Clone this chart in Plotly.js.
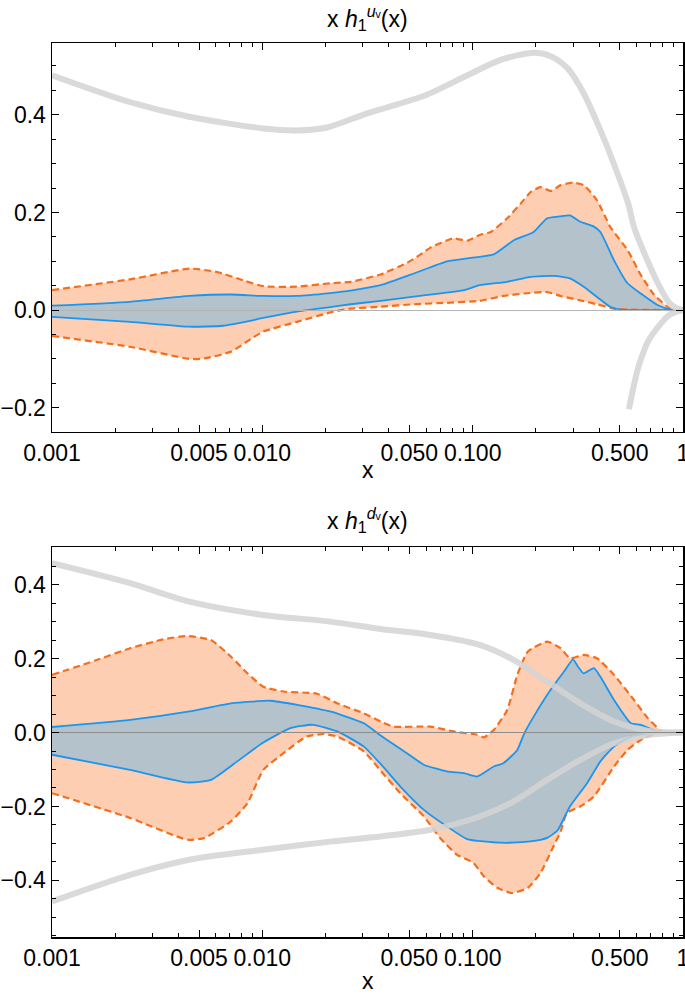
<!DOCTYPE html>
<html>
<head>
<meta charset="utf-8">
<script src="https://cdn.plot.ly/plotly-3.0.1.min.js"></script>
<style>html,body{margin:0;padding:0;background:#fff}#chart{width:685px;height:994px}</style>
</head>
<body>
<div id="chart"></div>
<script>
// ---------- tick labels ----------
const xTickVals = [0.001, 0.005, 0.01, 0.05, 0.1, 0.5, 1];
const xTickText = ['0.001', '0.005', '0.010', '0.050', '0.100', '0.500', '1'];
const xMinorVals = [0.002,0.003,0.004,0.006,0.007,0.008,0.009,0.02,0.03,0.04,0.06,0.07,0.08,0.09,0.2,0.3,0.4,0.6,0.7,0.8,0.9];
const yTopTickVals = [-0.2, 0, 0.2, 0.4];
const yTopTickText = ['\u22120.2', '0.0', '0.2', '0.4'];
const yTopMinor = [-0.25,-0.15,-0.1,-0.05,0.05,0.1,0.15,0.25,0.3,0.35,0.45,0.5];
const yBotTickVals = [-0.4, -0.2, 0, 0.2, 0.4];
const yBotTickText = ['\u22120.4', '\u22120.2', '0.0', '0.2', '0.4'];
const yBotMinor = [-0.55,-0.5,-0.45,-0.35,-0.3,-0.25,-0.15,-0.1,-0.05,0.05,0.1,0.15,0.25,0.3,0.35,0.45,0.5];

// ---------- top panel: x h1^{u_v}(x) ----------
const uOrangeUpX = [0.001,0.00235,0.0045,0.0061,0.0081,0.0101,0.0146,0.021,0.0263,0.0365,0.0489,0.0557,0.063,0.081,0.094,0.108,0.122,0.146,0.169,0.189,0.21,0.235,0.262,0.30,0.337,0.39,0.45,0.545,0.63,0.73,0.877,1];
const uOrangeUpY = [0.041,0.063,0.085,0.078,0.061,0.049,0.048,0.055,0.058,0.073,0.097,0.112,0.128,0.147,0.142,0.154,0.160,0.188,0.218,0.242,0.252,0.244,0.256,0.261,0.256,0.225,0.171,0.123,0.072,0.031,0.002,0];
const uOrangeLoX = [0.001,0.00235,0.0045,0.0053,0.0071,0.0089,0.0101,0.0146,0.0218,0.0263,0.0365,0.0526,0.0755,0.108,0.14,0.176,0.226,0.262,0.325,0.39,0.47,0.545,1];
const uOrangeLoY = [-0.053,-0.075,-0.100,-0.099,-0.085,-0.058,-0.044,-0.024,-0.003,0.003,0.007,0.012,0.015,0.019,0.029,0.034,0.037,0.029,0.020,0.012,0.003,0.001,0];
const uBlueUpX = [0.001,0.00235,0.0045,0.0071,0.0101,0.0146,0.021,0.0263,0.0365,0.0526,0.0755,0.098,0.126,0.157,0.195,0.226,0.26,0.29,0.325,0.377,0.405,0.47,0.545,0.63,0.76,0.877,1];
const uBlueUpY = [0.009,0.017,0.029,0.032,0.029,0.029,0.035,0.040,0.051,0.075,0.100,0.107,0.114,0.143,0.160,0.188,0.192,0.194,0.181,0.171,0.160,0.102,0.055,0.034,0.010,0.001,0];
const uBlueLoX = [0.001,0.00235,0.0045,0.0065,0.0085,0.0101,0.0146,0.021,0.0263,0.0365,0.061,0.091,0.108,0.146,0.189,0.244,0.29,0.337,0.39,0.45,0.507,0.7,1];
const uBlueLoY = [-0.014,-0.024,-0.034,-0.032,-0.023,-0.016,-0.003,0.006,0.012,0.019,0.031,0.041,0.051,0.058,0.068,0.070,0.065,0.048,0.027,0.007,0.001,0.0,0];
const uGreyUpX = [0.001,0.00235,0.0045,0.0101,0.0146,0.0203,0.0315,0.0597,0.0945,0.135,0.195,0.235,0.283,0.337,0.405,0.462,0.55,0.585,0.68,0.76,0.85,0.93,1];
const uGreyUpY = [0.481,0.426,0.396,0.372,0.368,0.374,0.403,0.440,0.481,0.512,0.527,0.520,0.495,0.444,0.368,0.307,0.217,0.17,0.10,0.055,0.018,0.004,0];
const uGreyLoX = [0.553,0.58,0.61,0.65,0.68,0.76,0.85,0.93,1];
const uGreyLoY = [-0.203,-0.16,-0.12,-0.085,-0.065,-0.035,-0.012,-0.003,0];

// ---------- bottom panel: x h1^{d_v}(x) ----------
const dOrangeUpX = [0.001,0.00163,0.00235,0.00339,0.00438,0.0057,0.0071,0.0085,0.0101,0.0126,0.0182,0.0227,0.0304,0.0365,0.042,0.063,0.081,0.105,0.113,0.126,0.146,0.163,0.183,0.226,0.262,0.29,0.337,0.39,0.47,0.585,0.68,0.79,1];
const dOrangeUpY = [0.156,0.196,0.228,0.252,0.261,0.250,0.205,0.160,0.124,0.111,0.105,0.079,0.052,0.030,0.016,0.016,0.003,-0.006,-0.013,0.007,0.061,0.156,0.219,0.246,0.228,0.201,0.210,0.201,0.156,0.088,0.039,0.005,0];
const dOrangeLoX = [0.001,0.00235,0.0044,0.0053,0.0071,0.0085,0.0101,0.0126,0.0162,0.0196,0.0227,0.0304,0.0365,0.0453,0.0586,0.07,0.084,0.101,0.113,0.131,0.154,0.183,0.21,0.244,0.262,0.28,0.325,0.377,0.47,0.545,0.63,0.76,1];
const dOrangeLoY = [-0.164,-0.231,-0.290,-0.285,-0.240,-0.191,-0.101,-0.056,-0.011,-0.004,-0.011,-0.051,-0.103,-0.164,-0.227,-0.285,-0.330,-0.353,-0.389,-0.420,-0.434,-0.420,-0.380,-0.304,-0.268,-0.218,-0.200,-0.173,-0.092,-0.047,-0.020,-0.001,0];
const dBlueUpX = [0.001,0.00235,0.0045,0.0071,0.0109,0.0146,0.021,0.0304,0.0365,0.0487,0.0586,0.0755,0.091,0.105,0.126,0.14,0.163,0.176,0.195,0.218,0.244,0.272,0.30,0.317,0.337,0.377,0.405,0.47,0.566,0.63,0.76,1];
const dBlueUpY = [0.015,0.034,0.057,0.079,0.086,0.075,0.057,0.025,-0.008,-0.056,-0.087,-0.105,-0.110,-0.119,-0.092,-0.083,-0.047,-0.002,0.043,0.088,0.129,0.165,0.198,0.178,0.160,0.174,0.151,0.088,0.025,0.021,0.003,0];
const dBlueLoX = [0.001,0.00235,0.0044,0.0057,0.0076,0.0101,0.0136,0.0174,0.0227,0.0304,0.0365,0.0453,0.0586,0.0755,0.094,0.136,0.183,0.21,0.226,0.253,0.29,0.35,0.405,0.47,0.566,0.7,1];
const dBlueLoY = [-0.060,-0.101,-0.135,-0.128,-0.078,-0.027,0.012,0.021,0.003,-0.038,-0.085,-0.146,-0.209,-0.254,-0.288,-0.298,-0.295,-0.290,-0.285,-0.265,-0.200,-0.137,-0.078,-0.038,-0.011,-0.002,0];
const dGreyUpX = [0.001,0.00235,0.0045,0.0101,0.021,0.0365,0.063,0.108,0.157,0.226,0.325,0.47,0.68,1];
const dGreyUpY = [0.458,0.404,0.354,0.318,0.300,0.280,0.264,0.237,0.196,0.138,0.079,0.030,0.005,0];
const dGreyLoX = [0.001,0.00235,0.0045,0.0101,0.021,0.0365,0.063,0.108,0.157,0.226,0.325,0.47,0.68,1];
const dGreyLoY = [-0.457,-0.385,-0.344,-0.317,-0.295,-0.281,-0.263,-0.227,-0.186,-0.128,-0.074,-0.029,-0.007,0];

// ---------- styles ----------
const ORANGE_FILL = 'rgb(253,206,178)';
const BLUE_FILL = 'rgb(180,194,204)';
const ORANGE_LINE = 'rgb(246,110,28)';
const BLUE_LINE = 'rgb(24,150,240)';
const GREY = 'rgba(212,212,212,0.85)';
const FONT = 'Liberation Sans, Arial, Helvetica, sans-serif';
const SM = 0.5;

function panel(xa, ya, oUx, oUy, oLx, oLy, bUx, bUy, bLx, bLy, greys) {
  const t = [];
  t.push({x: oLx, y: oLy, xaxis: xa, yaxis: ya, mode: 'lines', line: {width: 0, shape: 'spline', smoothing: SM}, hoverinfo: 'skip'});
  t.push({x: oUx, y: oUy, xaxis: xa, yaxis: ya, mode: 'lines', fill: 'tonexty', fillcolor: ORANGE_FILL, line: {width: 0, shape: 'spline', smoothing: SM}, hoverinfo: 'skip'});
  t.push({x: bLx, y: bLy, xaxis: xa, yaxis: ya, mode: 'lines', line: {width: 0, shape: 'spline', smoothing: SM}, hoverinfo: 'skip'});
  t.push({x: bUx, y: bUy, xaxis: xa, yaxis: ya, mode: 'lines', fill: 'tonexty', fillcolor: BLUE_FILL, line: {width: 0, shape: 'spline', smoothing: SM}, hoverinfo: 'skip'});
  t.push({x: oLx, y: oLy, xaxis: xa, yaxis: ya, mode: 'lines', line: {color: ORANGE_LINE, width: 2.2, dash: '7px,4px', shape: 'spline', smoothing: SM}});
  t.push({x: oUx, y: oUy, xaxis: xa, yaxis: ya, mode: 'lines', line: {color: ORANGE_LINE, width: 2.2, dash: '7px,4px', shape: 'spline', smoothing: SM}});
  t.push({x: bLx, y: bLy, xaxis: xa, yaxis: ya, mode: 'lines', line: {color: BLUE_LINE, width: 1.8, shape: 'spline', smoothing: SM}});
  t.push({x: bUx, y: bUy, xaxis: xa, yaxis: ya, mode: 'lines', line: {color: BLUE_LINE, width: 1.8, shape: 'spline', smoothing: SM}});
  greys.forEach(g => t.push({x: g[0], y: g[1], xaxis: xa, yaxis: ya, mode: 'lines', line: {color: GREY, width: 6, shape: 'spline', smoothing: 0.8}}));
  return t;
}

const data = [].concat(
  panel('x', 'y', uOrangeUpX, uOrangeUpY, uOrangeLoX, uOrangeLoY, uBlueUpX, uBlueUpY, uBlueLoX, uBlueLoY,
        [[uGreyUpX, uGreyUpY], [uGreyLoX, uGreyLoY]]),
  panel('x2', 'y2', dOrangeUpX, dOrangeUpY, dOrangeLoX, dOrangeLoY, dBlueUpX, dBlueUpY, dBlueLoX, dBlueLoY,
        [[dGreyUpX, dGreyUpY], [dGreyLoX, dGreyLoY]])
);

const TICKFONT = {family: FONT, size: 23, color: '#000'};

function xAxis(anchor) {
  return {
    type: 'log', range: [-3, 0], domain: [0, 1], anchor: anchor,
    tickmode: 'array', tickvals: xTickVals, ticktext: xTickText,
    ticks: 'inside', ticklen: 7, tickwidth: 1, tickcolor: '#000',
    minor: {tickmode: 'array', tickvals: xMinorVals, ticks: 'inside', ticklen: 4, tickwidth: 1, tickcolor: '#000', showgrid: false},
    showline: true, linecolor: '#000', linewidth: 1.5, mirror: 'allticks',
    showgrid: false, zeroline: false, layer: 'above traces',
    ticklabeloverflow: 'allow',
    tickfont: TICKFONT
  };
}
function yAxis(anchor, range, domain, tv, tt, minor, zc) {
  return {
    range: range, domain: domain, anchor: anchor,
    tickmode: 'array', tickvals: tv, ticktext: tt,
    ticks: 'inside', ticklen: 7, tickwidth: 1, tickcolor: '#000',
    minor: {tickmode: 'array', tickvals: minor, ticks: 'inside', ticklen: 4, tickwidth: 1, tickcolor: '#000', showgrid: false},
    showline: true, linecolor: '#000', linewidth: 1.5, mirror: 'allticks',
    showgrid: false, zeroline: true, zerolinecolor: zc, zerolinewidth: 1, zerolinelayer: 'above traces',
    layer: 'above traces', ticklabeloverflow: 'allow',
    tickfont: TICKFONT
  };
}

const annFont = {family: FONT, size: 23, color: '#000'};
const layout = {
  width: 685, height: 994,
  margin: {l: 52, r: 2, t: 43, b: 57},
  paper_bgcolor: '#fff', plot_bgcolor: '#fff',
  showlegend: false,
  xaxis: xAxis('y'),
  yaxis: yAxis('x', [-0.249, 0.547], [0.5652, 1], yTopTickVals, yTopTickText, yTopMinor, '#b4b4b4'),
  xaxis2: xAxis('y2'),
  yaxis2: yAxis('x2', [-0.553, 0.501], [0, 0.4359], yBotTickVals, yBotTickText, yBotMinor, '#8c8c8c'),
  annotations: [
    {text: 'x <i>h</i><sub>1</sub><sup><i>u</i>\u1D65</sup>(x)', xref: 'paper', yref: 'paper', x: 0.5, y: 1.028, xanchor: 'center', yanchor: 'middle', showarrow: false, font: annFont},
    {text: 'x', xref: 'paper', yref: 'paper', x: 0.5, y: 0.5224, xanchor: 'center', yanchor: 'middle', showarrow: false, font: annFont},
    {text: 'x <i>h</i><sub>1</sub><sup><i>d</i>\u1D65</sup>(x)', xref: 'paper', yref: 'paper', x: 0.5, y: 0.4664, xanchor: 'center', yanchor: 'middle', showarrow: false, font: annFont},
    {text: 'x', xref: 'paper', yref: 'paper', x: 0.5, y: -0.049, xanchor: 'center', yanchor: 'middle', showarrow: false, font: annFont}
  ]
};

Plotly.newPlot('chart', data, layout, {displayModeBar: false, staticPlot: true});
</script>
</body>
</html>
